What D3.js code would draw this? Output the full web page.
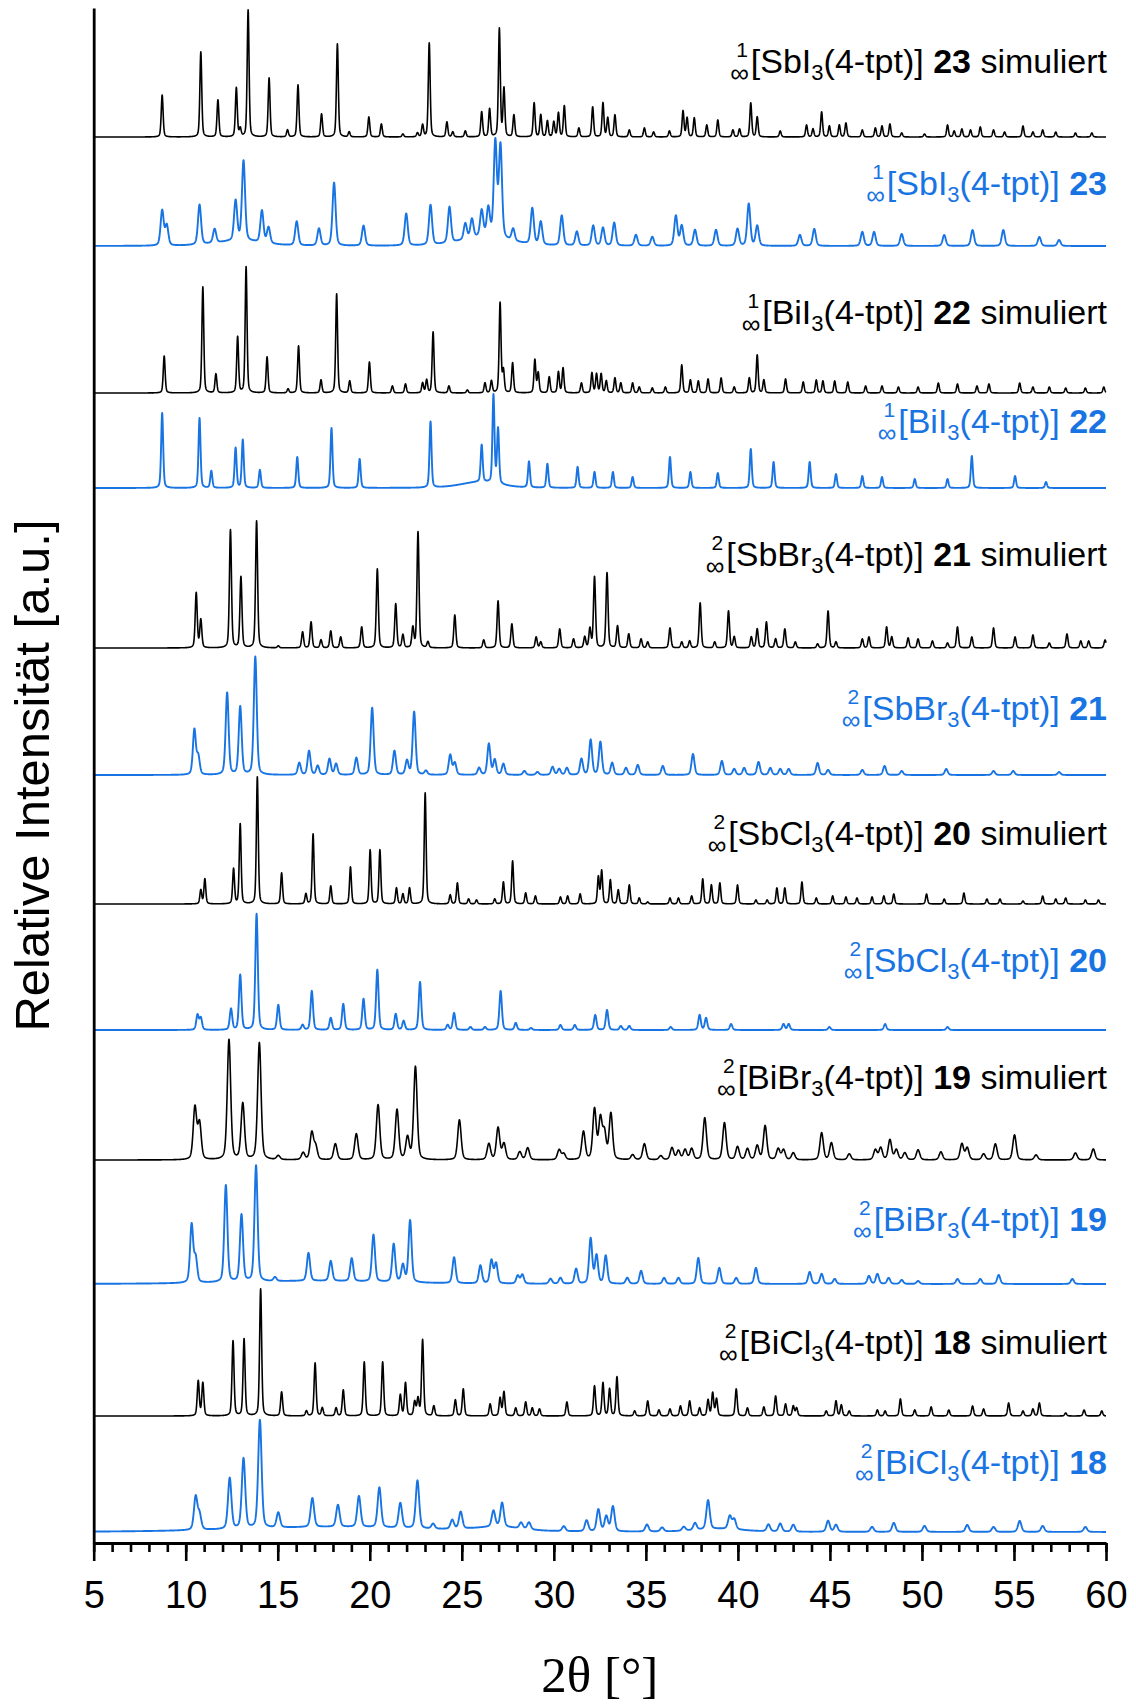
<!DOCTYPE html>
<html>
<head>
<meta charset="utf-8">
<script src="https://cdn.jsdelivr.net/npm/d3@7"></script>
<style>
  html, body { margin: 0; padding: 0; background: #fff; }
  svg { display: block; }
  text { font-family: "Liberation Sans", Arial, sans-serif; white-space: pre; }
</style>
</head>
<body>
<svg id="chart" width="1136" height="1704"></svg>
<script>
// ---- Peak lists: [2θ (°), intensity (a.u.), optional width (°)] ----
const sbi3Sim = [[8.72,42],[10.82,85],[11.75,37],[12.75,49],[12.96,8],[13.39,127],[14.53,59],[15.53,7],[16.1,52],[17.38,23],[18.24,93],[18.88,5],[19.95,20],[20.63,13],[21.8,3],[22.59,4],[22.87,12],[23.23,94],[24.19,15],[24.51,5],[25.19,6],[26.08,25],[26.51,28],[27.04,108],[27.29,48],[27.83,22],[28.93,34],[29.29,22],[29.65,16],[30.0,15],[30.25,24],[30.57,31],[31.36,9],[32.11,30],[32.67,34],[32.93,19],[33.32,22],[34.1,7],[34.92,9],[35.42,5],[36.28,6],[37.02,26],[37.24,19],[37.63,19],[38.31,12],[38.91,17],[39.73,7],[40.09,8],[40.7,34],[41.05,20],[42.3,6],[43.73,12],[44.08,8],[44.55,25],[44.97,11],[45.51,12],[45.87,14],[46.76,7],[47.47,9],[47.83,11],[48.26,13],[48.9,4],[50.14,3],[51.39,12],[51.75,6],[52.17,8],[52.64,7],[53.17,10],[53.89,7],[54.49,5],[55.49,11],[56.03,5],[56.56,7],[57.27,5],[58.34,4],[59.23,4]];
const sbi3Exp = [[8.72,35],[8.97,20],[10.75,40],[11.57,14],[12.71,40],[13.14,80],[14.14,32],[14.5,16],[16.03,24],[17.24,17],[18.06,63],[19.66,20],[21.98,32],[23.3,40],[24.33,36],[25.19,16],[25.55,19],[26.08,26],[26.44,28],[26.82,95],[27.1,92],[27.79,12],[28.83,36],[29.29,23],[30.43,30],[31.25,14],[32.14,20],[32.67,18],[33.28,23],[34.46,11],[35.35,9],[36.63,30],[36.95,20],[37.67,16],[38.81,16],[39.98,17],[40.59,42],[41.05,20],[43.37,11],[44.15,17],[46.76,14],[47.4,14],[48.9,12],[51.21,11],[52.75,16],[54.42,16],[56.38,9],[57.45,6],[26.3,9,3],[12.9,5,3]];
const bii3Sim = [[8.83,37],[10.93,106],[11.64,19],[12.82,56],[13.28,126],[14.42,36],[15.56,4],[16.13,47],[17.35,13],[18.2,99],[18.91,12],[19.98,31],[21.23,7],[21.94,9],[22.87,10],[23.09,13],[23.44,61],[24.3,7],[25.3,3],[26.26,10],[26.61,12],[27.08,90],[27.26,22],[27.76,30],[28.97,33],[29.15,20],[29.75,16],[30.25,21],[30.5,25],[31.5,10],[32.07,20],[32.32,19],[32.57,19],[32.85,12],[33.32,15],[33.64,10],[34.28,10],[34.64,6],[35.35,5],[36.06,6],[36.95,28],[37.42,13],[37.85,12],[38.38,14],[39.09,15],[39.8,6],[40.62,15],[41.05,38],[41.41,13],[42.59,14],[43.55,11],[44.26,13],[44.62,12],[45.26,12],[45.97,11],[46.94,7],[47.83,7],[48.72,6],[49.79,6],[50.89,10],[51.93,9],[52.99,7],[53.64,9],[55.31,10],[56.03,6],[56.92,6],[57.81,5],[58.88,5],[59.88,6]];
const bii3Exp = [[8.72,75],[10.75,70],[11.39,17],[12.71,40],[13.1,48],[14.03,18],[16.06,31],[17.92,60],[19.45,29],[23.3,66],[26.08,37],[26.72,88],[26.97,55],[28.65,26],[29.65,24],[31.29,21],[32.21,16],[33.21,16],[34.28,11],[36.31,31],[37.42,16],[38.91,15],[40.7,39],[41.94,26],[43.9,26],[45.33,14],[46.76,12],[47.83,11],[49.61,9],[51.39,9],[52.71,32],[55.06,12],[56.74,6],[26.0,6,2.5]];
const sbbr3Sim = [[10.57,55],[10.82,28],[12.43,118],[13.0,71],[13.85,127],[15.03,2],[16.35,16],[16.81,26],[17.35,8],[17.88,17],[18.42,11],[19.56,21],[20.41,79],[21.41,44],[21.8,13],[22.34,20],[22.62,116],[23.16,6],[24.62,33],[26.19,8],[26.97,47],[27.72,24],[29.04,11],[29.29,6],[30.32,19],[31.07,9],[31.68,11],[31.96,19],[32.21,71],[32.89,75],[33.46,22],[34.07,14],[34.74,9],[35.1,6],[36.31,20],[36.95,6],[37.38,7],[37.95,45],[38.74,6],[39.49,37],[39.8,11],[40.73,11],[41.05,19],[41.55,26],[42.05,9],[42.55,19],[43.12,6],[44.33,4],[44.9,37],[45.33,6],[46.76,9],[47.12,11],[48.08,21],[48.36,11],[49.25,10],[49.79,9],[50.57,7],[51.39,5],[51.93,21],[52.71,11],[53.89,20],[55.06,11],[56.03,13],[56.92,5],[57.88,14],[58.63,7],[59.06,7],[59.95,8]];
const sbbr3Exp = [[10.47,45],[10.68,18],[12.25,82],[12.96,68],[13.78,118],[16.17,12],[16.7,24],[17.17,9],[17.81,16],[18.17,11],[19.27,17],[20.13,67],[21.34,24],[22.02,14],[22.41,63],[23.05,4],[24.37,20],[24.62,12],[25.94,7],[26.47,31],[26.79,15],[27.26,11],[28.4,4],[29.11,3],[29.93,8],[30.29,6],[30.71,7],[31.5,16],[32.0,35],[32.53,33],[33.17,12],[33.92,7],[34.56,10],[35.92,9],[37.56,21],[39.13,14],[39.8,6],[40.34,7],[41.12,13],[41.76,7],[42.3,6],[42.76,6],[44.33,12],[44.9,5],[46.76,5],[47.97,9],[48.9,4],[51.32,6],[53.89,4],[54.96,4],[57.45,3]];
const sbcl3Sim = [[10.82,14],[11.04,25],[12.6,35],[12.96,80],[13.89,127],[15.21,31],[16.53,10],[16.92,70],[17.88,18],[18.95,37],[20.02,54],[20.55,54],[21.45,16],[21.8,10],[22.16,16],[23.01,111],[24.37,9],[24.76,21],[25.37,5],[25.8,4],[26.79,5],[27.26,22],[27.76,43],[28.47,11],[29.0,8],[30.36,7],[30.75,8],[31.43,10],[32.42,27],[32.6,33],[33.07,24],[33.5,14],[34.1,19],[34.64,6],[35.1,2],[36.31,6],[36.77,6],[37.49,8],[38.09,25],[38.56,19],[39.02,21],[39.98,19],[40.98,4],[41.59,4],[42.12,16],[42.55,16],[43.48,22],[44.26,6],[45.15,8],[45.87,7],[46.47,6],[47.29,7],[47.93,8],[48.47,10],[50.25,10],[51.21,5],[52.28,11],[53.53,5],[54.24,5],[55.49,3],[56.56,8],[57.27,5],[57.81,6],[58.88,4],[59.59,4]];
const sbcl3Exp = [[10.64,15],[10.82,12],[12.46,21],[12.96,55],[13.85,116],[15.03,25],[16.35,5],[16.85,39],[17.88,12],[18.56,26],[19.66,31],[20.41,60],[21.41,16],[21.84,9],[22.73,48],[24.23,5],[24.58,17],[25.47,3],[26.26,3],[27.11,39],[27.93,7],[28.76,2],[30.36,5],[31.14,5],[32.25,15],[32.89,20],[33.64,4],[34.1,4],[36.35,3],[37.92,15],[38.27,12],[39.63,6],[42.48,6],[42.76,6],[44.97,3],[48.0,6],[51.39,3]];
const bibr3Sim = [[10.5,52],[10.75,36],[12.35,120],[13.1,56],[14.0,117],[15.03,4],[16.38,7],[16.85,27],[17.06,13],[18.13,16],[19.27,26],[20.45,55],[21.48,50],[22.05,22],[22.48,93],[24.87,40],[26.47,16],[26.97,32],[27.29,16],[28.15,8],[28.58,12],[30.29,10],[30.54,6],[31.61,28],[32.21,50],[32.53,40],[32.75,26],[33.1,46],[34.28,5],[34.92,16],[35.81,4],[36.42,12],[36.77,9],[37.13,10],[37.49,11],[38.2,42],[39.27,37],[39.98,13],[40.52,11],[41.05,14],[41.48,34],[42.19,11],[42.48,10],[43.01,7],[44.55,27],[45.08,17],[46.05,6],[47.47,10],[47.76,12],[48.26,20],[48.61,10],[49.07,7],[49.79,10],[51.03,8],[52.17,16],[52.46,12],[53.35,6],[53.99,16],[55.03,25],[56.2,5],[58.34,7],[59.31,11]];
const bibr3Exp = [[10.32,58],[10.54,24],[12.18,97],[13.03,67],[13.82,116],[14.85,4],[16.67,28],[17.88,20],[19.02,23],[20.2,47],[21.3,38],[21.8,17],[22.19,62],[24.58,26],[26.01,18],[26.61,23],[26.86,20],[28.04,8],[28.29,9],[29.82,5],[30.36,6],[31.21,15],[32.0,45],[32.32,28],[32.82,28],[33.99,6],[34.74,13],[35.99,6],[36.77,6],[37.85,26],[38.99,16],[39.91,6],[40.98,16],[43.9,12],[44.55,10],[45.26,5],[47.12,8],[47.58,10],[48.19,6],[48.9,4],[49.79,3],[51.93,5],[53.17,5],[54.17,9],[58.17,5],[17.0,3,10]];
const bicl3Sim = [[10.68,35],[10.93,33],[12.57,75],[13.17,77],[14.07,127],[15.21,24],[16.56,5],[17.03,53],[17.42,8],[18.17,8],[18.56,26],[19.7,54],[20.7,54],[21.66,21],[21.94,33],[22.44,14],[22.62,17],[22.87,76],[23.48,10],[24.65,16],[25.08,27],[26.54,12],[27.08,18],[27.29,24],[27.93,8],[28.47,14],[28.83,8],[29.22,7],[30.71,14],[32.21,30],[32.67,33],[33.03,27],[33.43,39],[34.39,5],[35.1,15],[35.71,6],[36.31,7],[36.88,10],[37.38,15],[37.92,8],[38.38,16],[38.63,23],[38.84,17],[39.91,27],[40.52,8],[41.41,9],[42.05,20],[42.59,12],[43.01,10],[43.19,8],[44.8,5],[45.33,15],[45.62,11],[46.05,5],[47.58,6],[48.0,5],[48.83,17],[49.61,6],[50.5,9],[51.46,6],[52.75,10],[53.35,7],[54.71,13],[55.49,5],[56.03,7],[56.38,13],[57.81,3],[58.81,6],[59.77,5]];
const bicl3Exp = [[10.54,33],[10.75,15],[12.39,51],[13.14,70],[14.03,108],[15.03,15],[16.88,29],[18.27,22],[19.41,31],[20.52,40],[21.66,25],[22.59,48],[23.44,5],[24.48,9],[24.94,17],[26.72,16],[27.19,24],[28.22,6],[28.65,7],[30.54,5],[31.78,11],[32.42,22],[32.85,15],[33.21,25],[35.06,7],[35.88,4],[37.06,4],[37.67,7],[38.38,29],[39.56,13],[39.8,10],[41.66,7],[42.3,8],[43.01,7],[44.9,11],[45.33,7],[47.29,5],[48.47,9],[50.14,6],[52.46,7],[53.89,5],[55.31,11],[56.56,6],[58.88,5],[18,5,12],[27,4,3],[39,3,3]];

// Compounds, dimensionality and compound numbers (one per simulated/measured pair)
const compounds = ["SbI", "BiI", "SbBr", "SbCl", "BiBr", "BiCl"];
const dimensions = ["1", "1", "2", "2", "2", "2"];
const compoundNumbers = ["23", "22", "21", "20", "19", "18"];

// Traces from top to bottom, with stacking offsets and peak widths (FWHM, °)
const traces = [sbi3Sim, sbi3Exp, bii3Sim, bii3Exp, sbbr3Sim, sbbr3Exp, sbcl3Sim, sbcl3Exp, bibr3Sim, bibr3Exp, bicl3Sim, bicl3Exp];
const offsets = [1406, 1297, 1150, 1055, 895, 768, 639, 513, 383, 259, 127, 11];
const fwhm = [0.12, 0.2, 0.12, 0.13, 0.13, 0.19, 0.12, 0.16, 0.22, 0.2, 0.13, 0.22];

// Axis ticks
const majorTicks = [5, 10, 15, 20, 25, 30, 35, 40, 45, 50, 55, 60];
const minorTicks = d3.range(5, 61, 1);

// ---- Layout ----
const plot = { left: 93.7, right: 1106, top: 8, bottom: 1543 };
const labelLift = [64, 51, 69, 55, 82, 55, 59, 58, 71, 53, 62, 58];
const BLUE = "#1874e3";
const eta = 0.35;

const svg = d3.select("#chart");
const x = d3.scaleLinear().domain([5, 60]).range([plot.left, plot.right]);
const y = d3.scaleLinear().domain([0, plot.bottom - plot.top]).range([plot.bottom, plot.top]);

// Pseudo-Voigt peak profile summed on a fine 2θ grid
const grid = d3.range(5, 60.0001, 0.01);
function profile(peaks, w) {
  return grid.map(t => {
    let s = 0;
    for (const p of peaks) {
      const fw = p[2] || w;
      const d = (t - p[0]) / fw;
      if (d > 40 || d < -40) continue;
      const d2 = d * d;
      s += p[1] * (eta / (1 + 4 * d2) + (1 - eta) * Math.exp(-2.7726 * d2));
    }
    return [t, s];
  });
}

const line = d3.line().x(d => x(d[0])).y(d => y(d[1]));

traces.forEach((peaks, i) => {
  const sim = i % 2 === 0;
  const base = offsets[i];
  svg.append("path")
    .datum(profile(peaks, fwhm[i]).map(d => [d[0], d[1] + base]))
    .attr("d", line)
    .attr("fill", "none")
    .attr("stroke", sim ? "#000" : BLUE)
    .attr("stroke-width", sim ? 1.6 : 1.9)
    .attr("stroke-linejoin", "round");
});

// ---- Trace labels ----
traces.forEach((peaks, i) => {
  const sim = i % 2 === 0;
  const k = Math.floor(i / 2);
  const g = svg.append("g")
    .attr("transform", `translate(${plot.right + 1},${y(offsets[i] + labelLift[i])})`)
    .attr("fill", sim ? "#000" : BLUE);
  const t = g.append("text").attr("text-anchor", "end").attr("font-size", 34);
  t.append("tspan").text("[" + compounds[k]);
  t.append("tspan").attr("font-size", 22).attr("dy", 7).text("3");
  t.append("tspan").attr("dy", -7).text("(4-tpt)] ");
  t.append("tspan").attr("font-weight", "bold").text(compoundNumbers[k]);
  if (sim) t.append("tspan").text(" simuliert");
  const start = -t.node().getComputedTextLength();
  g.append("text").attr("x", start - 2).attr("y", 9)
    .attr("text-anchor", "end").attr("font-size", 26).text("\u221E");
  g.append("text").attr("x", start - 3).attr("y", -16)
    .attr("text-anchor", "end").attr("font-size", 21).text(dimensions[k]);
});

// ---- Axes ----
const xAxisG = svg.append("g").attr("transform", `translate(0,${plot.bottom})`);
xAxisG.append("g")
  .call(d3.axisBottom(x).tickValues(minorTicks).tickSize(9).tickSizeOuter(0).tickFormat(""))
  .call(g => g.select(".domain").remove())
  .call(g => g.selectAll("line").attr("stroke", "#000").attr("stroke-width", 2.6));
xAxisG.append("g")
  .call(d3.axisBottom(x).tickValues(majorTicks).tickSize(18).tickSizeOuter(0).tickFormat(d3.format("d")))
  .call(g => g.select(".domain").attr("stroke", "#000").attr("stroke-width", 2.8))
  .call(g => g.selectAll("line").attr("stroke", "#000").attr("stroke-width", 2.6))
  .call(g => g.selectAll("text")
    .attr("y", 65).attr("dy", 0)
    .attr("fill", "#000")
    .attr("font-size", 38)
    .attr("font-family", "'Liberation Sans', Arial, sans-serif"));

svg.append("g")
  .attr("transform", `translate(${plot.left},0)`)
  .call(d3.axisLeft(y).tickValues([]).tickSizeOuter(0))
  .call(g => g.select(".domain").attr("stroke", "#000").attr("stroke-width", 2.8));

// Axis titles
svg.append("text")
  .attr("x", (plot.left + plot.right) / 2)
  .attr("y", 1692)
  .attr("text-anchor", "middle")
  .attr("font-size", 51)
  .style("font-family", "'Liberation Serif', 'Times New Roman', serif")
  .text("2\u03B8 [\u00B0]");

svg.append("text")
  .attr("transform", `translate(49,${(plot.top + plot.bottom) / 2}) rotate(-90)`)
  .attr("text-anchor", "middle")
  .attr("font-size", 49)
  .text("Relative Intensit\u00E4t [a.u.]");
</script>
</body>
</html>
